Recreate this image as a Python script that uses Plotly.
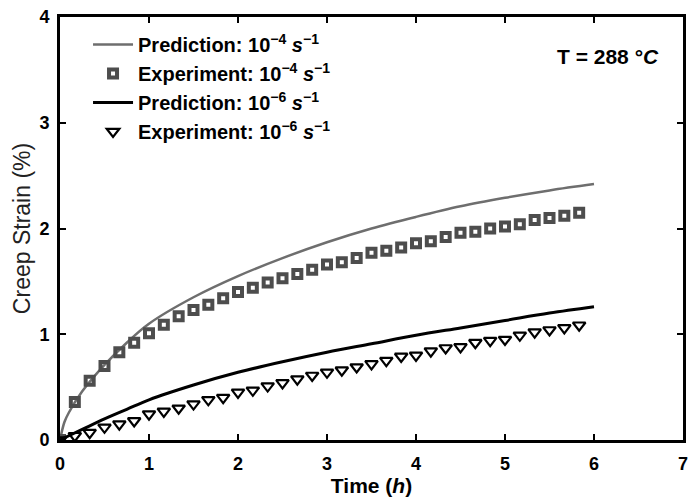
import plotly.graph_objects as go

# ---- data ----
pred_t = [0, 0.05, 0.1, 0.25, 0.5, 0.75, 1.0, 1.5, 2.0, 2.5, 3.0, 3.5, 4.0, 4.5, 5.0, 5.5, 6.0]
pred_fast = [0, 0.17, 0.26, 0.46, 0.71, 0.92, 1.10, 1.35, 1.55, 1.72, 1.87, 2.00, 2.11, 2.21, 2.29, 2.36, 2.42]
pred_slow = [0, 0.02, 0.04, 0.10, 0.20, 0.29, 0.38, 0.52, 0.64, 0.74, 0.83, 0.91, 0.99, 1.06, 1.13, 1.20, 1.26]

exp_t = [k / 6 for k in range(0, 36)]
exp_fast = [0, 0.36, 0.56, 0.70, 0.83, 0.92, 1.01, 1.09, 1.17, 1.23, 1.28, 1.34, 1.40, 1.44,
            1.49, 1.53, 1.57, 1.61, 1.66, 1.68, 1.72, 1.77, 1.79, 1.82, 1.86, 1.88, 1.92,
            1.96, 1.97, 2.00, 2.02, 2.04, 2.08, 2.10, 2.12, 2.15]
exp_slow = [0, 0.04, 0.07, 0.12, 0.15, 0.18, 0.245, 0.27, 0.30, 0.34, 0.38, 0.40, 0.45, 0.47,
            0.51, 0.54, 0.575, 0.61, 0.64, 0.66, 0.69, 0.72, 0.75, 0.79, 0.80, 0.84, 0.87,
            0.88, 0.92, 0.94, 0.95, 0.99, 1.02, 1.04, 1.06, 1.085]

x_ticks = [0, 1, 2, 3, 4, 5, 6, 7]
y_ticks = [0, 1, 2, 3, 4]

names = [
    "Prediction: 10<sup>\u22124</sup> <i>s</i><sup>\u22121</sup>",
    "Experiment: 10<sup>\u22124</sup> <i>s</i><sup>\u22121</sup>",
    "Prediction: 10<sup>\u22126</sup> <i>s</i><sup>\u22121</sup>",
    "Experiment: 10<sup>\u22126</sup> <i>s</i><sup>\u22121</sup>",
]

FONT = "Arial, Liberation Sans, sans-serif"
GRAY = "#6e6e6e"
SQ = "#4d4d4d"

fig = go.Figure()
fig.add_trace(go.Scatter(x=pred_t, y=pred_fast, mode="lines", name=names[0],
                         line=dict(color=GRAY, width=2.5, shape="spline")))
fig.add_trace(go.Scatter(x=exp_t, y=exp_fast, mode="markers", name=names[1],
                         marker=dict(symbol="square-open", size=8, color=SQ,
                                     line=dict(width=4, color=SQ))))
fig.add_trace(go.Scatter(x=pred_t, y=pred_slow, mode="lines", name=names[2],
                         line=dict(color="black", width=3, shape="spline")))
fig.add_trace(go.Scatter(x=exp_t, y=exp_slow, mode="markers", name=names[3],
                         marker=dict(symbol="triangle-down-open", size=11, color="black",
                                     line=dict(width=2.2, color="black"))))

fig.add_annotation(text="T = 288 \u00b0<i>C</i>", x=0.965, y=0.906, xref="paper", yref="paper",
                   xanchor="right", yanchor="middle", showarrow=False,
                   font=dict(family=FONT, size=21, color="black", weight="bold"))

axis_common = dict(
    showgrid=False, zeroline=False, showline=True, linecolor="black", linewidth=3,
    mirror="ticks", ticks="inside", ticklen=6, tickwidth=2, tickcolor="black",
    tickfont=dict(family=FONT, size=18, color="black", weight="bold"),
)

fig.update_layout(
    width=694, height=500,
    margin=dict(l=60, r=6, t=17, b=59),
    paper_bgcolor="white", plot_bgcolor="white",
    showlegend=True,
    legend=dict(x=0.045, y=0.981, xanchor="left", yanchor="top", bgcolor="rgba(0,0,0,0)",
                font=dict(family=FONT, size=20, color="black", weight="bold"),
                tracegroupgap=0, itemwidth=40),
    xaxis=dict(range=[0, 7], tickvals=x_ticks, ticktext=[str(v) for v in x_ticks],
               ticklabelstandoff=5,
               title=dict(text="Time (<i>h</i>)", standoff=6,
                          font=dict(family=FONT, size=21, color="black", weight="bold")),
               **axis_common),
    yaxis=dict(range=[0, 4], tickvals=y_ticks, ticktext=[str(v) for v in y_ticks],
               ticklabelstandoff=4,
               title=dict(text="Creep Strain (%)", standoff=3,
                          font=dict(family=FONT, size=23, color="#222", weight="normal")),
               **axis_common),
)

fig.write_html("out.html")
